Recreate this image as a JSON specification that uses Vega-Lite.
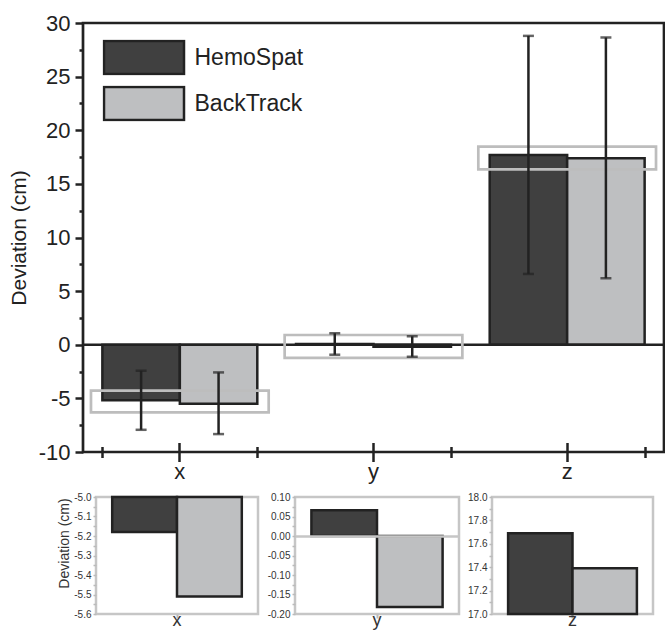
{
  "$schema": "https://vega.github.io/schema/vega-lite/v6.json",
  "padding": {"left": 6, "top": 10, "right": 0, "bottom": 0},
  "config": {
    "font": "Liberation Sans",
    "locale": {"number": {"decimal": ".", "thousands": ",", "grouping": [3], "currency": ["$", ""], "minus": "-"}},
    "axis": {"grid": false, "labelColor": "#222", "titleColor": "#222", "labelOverlap": false, "labelFlush": false}
  },
  "datasets": {
    "main": [
      {"cat": "x", "method": "HemoSpat", "value": -5.18, "lo": -7.93, "hi": -2.42},
      {"cat": "x", "method": "BackTrack", "value": -5.51, "lo": -8.33, "hi": -2.58},
      {"cat": "y", "method": "HemoSpat", "value": 0.066, "lo": -0.93, "hi": 1.07},
      {"cat": "y", "method": "BackTrack", "value": -0.182, "lo": -1.12, "hi": 0.79},
      {"cat": "z", "method": "HemoSpat", "value": 17.69, "lo": 6.6, "hi": 28.8},
      {"cat": "z", "method": "BackTrack", "value": 17.39, "lo": 6.2, "hi": 28.65}
    ],
    "hl": [
      {"cat": "x", "top": -4.28, "bottom": -6.31},
      {"cat": "y", "top": 0.91, "bottom": -1.23},
      {"cat": "z", "top": 18.47, "bottom": 16.35}
    ]
  },
  "resolve": {"scale": {"x": "independent", "y": "independent", "color": "independent", "xOffset": "independent"}, "legend": {"color": "independent"}},
  "columns": 1,
  "spacing": 6,
  "concat": [
    {
      "width": 581,
      "height": 429,
      "view": {"stroke": "#222", "strokeWidth": 2.7},
      "resolve": {"axis": {"x": "independent", "y": "independent"}},
      "layer": [
        {
          "data": {"name": "main"},
          "mark": {"type": "bar", "stroke": "#222", "strokeWidth": 2.5},
          "encoding": {
            "x": {"field": "cat", "type": "nominal", "scale": {"paddingInner": 0.2, "paddingOuter": 0.1},
              "axis": {"orient": "bottom", "offset": -9.5, "tickSize": 19, "tickWidth": 2.5, "tickColor": "#222", "domain": false, "labelFontSize": 22, "labelBaseline": "alphabetic", "labelPadding": 17, "labelAngle": 0, "title": null}},
            "xOffset": {"field": "method", "type": "nominal", "sort": ["HemoSpat", "BackTrack"], "scale": {"paddingInner": 0, "paddingOuter": 0}},
            "y": {"field": "value", "type": "quantitative", "scale": {"domain": [-10, 30], "nice": false, "zero": false},
              "axis": {"orient": "left", "values": [-10, -5, 0, 5, 10, 15, 20, 25, 30], "tickSize": 8, "tickWidth": 2.5, "tickColor": "#222", "domain": false, "labelFontSize": 22, "labelPadding": 5, "title": "Deviation (cm)", "titleFontSize": 21, "titleFontWeight": "normal", "titlePadding": 9}},
            "color": {"field": "method", "type": "nominal", "scale": {"domain": ["HemoSpat", "BackTrack"], "range": ["#404040", "#bebfc1"]},
              "legend": {"orient": "none", "legendX": 19.5, "legendY": 16.5, "title": null, "symbolType": "M-1,-0.4125H1V0.4125H-1Z", "symbolSize": 6400, "symbolStrokeWidth": 2.5, "symbolStrokeColor": "#222", "symbolOpacity": 1, "clipHeight": 36, "rowPadding": 10, "labelFontSize": 23, "labelOffset": 9, "labelColor": "#222", "padding": 0}}
          }
        },
        {
          "data": {"values": [{}]},
          "mark": {"type": "rule", "color": "#222", "strokeWidth": 2.7},
          "encoding": {"y": {"datum": 0, "axis": null}}
        },
        {
          "data": {"name": "hl"},
          "mark": {"type": "bar", "fill": "transparent", "stroke": "#bdbdbd", "strokeWidth": 2.7, "width": {"band": 1.147}},
          "encoding": {
            "x": {"field": "cat", "type": "nominal",
              "axis": {"orient": "bottom", "tickBand": "extent", "offset": -5.5, "tickSize": 11, "tickWidth": 2.5, "tickColor": "#222", "domain": false, "labels": false, "title": null}},
            "y": {"field": "top", "type": "quantitative",
              "axis": {"orient": "left", "values": [-7.5, -2.5, 2.5, 7.5, 12.5, 17.5, 22.5, 27.5], "tickSize": 4, "tickWidth": 2.5, "tickColor": "#222", "domain": false, "labels": false, "title": null}},
            "y2": {"field": "bottom"}
          }
        },
        {
          "data": {"name": "main"},
          "mark": {"type": "rule", "color": "#222", "strokeWidth": 2.5},
          "encoding": {
            "x": {"field": "cat", "type": "nominal", "axis": null},
            "xOffset": {"field": "method", "type": "nominal", "sort": ["HemoSpat", "BackTrack"]},
            "y": {"field": "lo", "type": "quantitative", "axis": null},
            "y2": {"field": "hi"}
          }
        },
        {
          "data": {"name": "main"},
          "mark": {"type": "tick", "color": "#222", "size": 11, "thickness": 2.5},
          "encoding": {
            "x": {"field": "cat", "type": "nominal", "axis": null},
            "xOffset": {"field": "method", "type": "nominal", "sort": ["HemoSpat", "BackTrack"]},
            "y": {"field": "lo", "type": "quantitative", "axis": null}
          }
        },
        {
          "data": {"name": "main"},
          "mark": {"type": "tick", "color": "#222", "size": 11, "thickness": 2.5},
          "encoding": {
            "x": {"field": "cat", "type": "nominal", "axis": null},
            "xOffset": {"field": "method", "type": "nominal", "sort": ["HemoSpat", "BackTrack"]},
            "y": {"field": "hi", "type": "quantitative", "axis": null}
          }
        }
      ]
    },
    {
      "spacing": 0,
      "bounds": "flush",
      "resolve": {"scale": {"x": "independent", "y": "independent", "color": "independent", "xOffset": "independent"}, "legend": {"color": "independent"}},
      "hconcat": [
        {
          "width": 13, "height": 117,
          "view": {"stroke": null},
          "data": {"values": []},
          "mark": "point"
        },
        {
          "width": 162, "height": 117,
          "view": {"stroke": "#c6c6c6", "strokeWidth": 2.5},
          "data": {"name": "main"},
          "transform": [{"filter": "datum.cat == 'x'"}],
          "mark": {"type": "bar", "stroke": "#222", "strokeWidth": 2.5},
          "encoding": {
            "x": {"field": "cat", "type": "nominal", "scale": {"paddingInner": 0.2, "paddingOuter": 0.1},
              "axis": {"orient": "bottom", "domain": false, "tickSize": 4, "tickWidth": 2, "tickColor": "#bbb", "labelFontSize": 18, "labelBaseline": "alphabetic", "labelPadding": 7, "labelColor": "#333", "labelAngle": 0, "title": null}},
            "xOffset": {"field": "method", "type": "nominal", "sort": ["HemoSpat", "BackTrack"], "scale": {"paddingInner": 0, "paddingOuter": 0}},
            "y": {"field": "value", "type": "quantitative", "scale": {"domain": [-5.6, -5.0], "nice": false, "zero": false},
              "axis": {"orient": "left", "values": [-5.6, -5.55, -5.5, -5.45, -5.4, -5.35, -5.3, -5.25, -5.2, -5.15, -5.1, -5.05, -5.0], "labelExpr": "round(datum.value*20) % 2 == 0 ? format(datum.value, '.1f') : ''", "domain": false, "tickSize": 3, "tickWidth": 1.5, "tickColor": "#bbb", "labelFontSize": 10, "labelPadding": 2, "labelColor": "#333", "title": "Deviation (cm)", "titleFontSize": 14, "titleFontWeight": "normal", "titleColor": "#333", "titlePadding": 2, "titleY": 46}},
            "y2": {"datum": -5.0},
            "color": {"field": "method", "type": "nominal", "scale": {"domain": ["HemoSpat", "BackTrack"], "range": ["#404040", "#bebfc1"]}, "legend": null}
          }
        },
        {
          "width": 37, "height": 117,
          "view": {"stroke": null},
          "data": {"values": []},
          "mark": "point"
        },
        {
          "width": 164, "height": 117,
          "view": {"stroke": "#c6c6c6", "strokeWidth": 2.5},
          "data": {"name": "main"},
          "transform": [{"filter": "datum.cat == 'y'"}],
          "mark": {"type": "bar", "stroke": "#222", "strokeWidth": 2.5},
          "encoding": {
            "x": {"field": "cat", "type": "nominal", "scale": {"paddingInner": 0.2, "paddingOuter": 0.1},
              "axis": {"orient": "bottom", "domain": false, "tickSize": 4, "tickWidth": 2, "tickColor": "#bbb", "labelFontSize": 18, "labelBaseline": "alphabetic", "labelPadding": 7, "labelColor": "#333", "labelAngle": 0, "title": null}},
            "xOffset": {"field": "method", "type": "nominal", "sort": ["HemoSpat", "BackTrack"], "scale": {"paddingInner": 0, "paddingOuter": 0}},
            "y": {"field": "value", "type": "quantitative", "scale": {"domain": [-0.2, 0.1], "nice": false, "zero": false},
              "axis": {"orient": "left", "zindex": 1, "values": [-0.2, -0.175, -0.15, -0.125, -0.1, -0.075, -0.05, -0.025, 0, 0.025, 0.05, 0.075, 0.1], "labelExpr": "round(datum.value*40) % 2 == 0 ? format(datum.value, '.2f') : ''", "domain": false, "tickSize": 3, "tickWidth": 1.5, "tickColor": "#bbb", "labelFontSize": 10, "labelPadding": 2, "labelColor": "#333", "title": null,
                "grid": true, "gridWidth": 2.5, "gridColor": "#c6c6c6", "gridOpacity": {"condition": {"test": "datum.value == 0", "value": 1}, "value": 0}}},
            "color": {"field": "method", "type": "nominal", "scale": {"domain": ["HemoSpat", "BackTrack"], "range": ["#404040", "#bebfc1"]}, "legend": null}
          }
        },
        {
          "width": 33, "height": 117,
          "view": {"stroke": null},
          "data": {"values": []},
          "mark": "point"
        },
        {
          "width": 161, "height": 117,
          "view": {"stroke": "#c6c6c6", "strokeWidth": 2.5},
          "data": {"name": "main"},
          "transform": [{"filter": "datum.cat == 'z'"}],
          "mark": {"type": "bar", "stroke": "#222", "strokeWidth": 2.5},
          "encoding": {
            "x": {"field": "cat", "type": "nominal", "scale": {"paddingInner": 0.2, "paddingOuter": 0.1},
              "axis": {"orient": "bottom", "domain": false, "tickSize": 4, "tickWidth": 2, "tickColor": "#bbb", "labelFontSize": 18, "labelBaseline": "alphabetic", "labelPadding": 7, "labelColor": "#333", "labelAngle": 0, "title": null}},
            "xOffset": {"field": "method", "type": "nominal", "sort": ["HemoSpat", "BackTrack"], "scale": {"paddingInner": 0, "paddingOuter": 0}},
            "y": {"field": "value", "type": "quantitative", "scale": {"domain": [17.0, 18.0], "nice": false, "zero": false},
              "axis": {"orient": "left", "values": [17.0, 17.1, 17.2, 17.3, 17.4, 17.5, 17.6, 17.7, 17.8, 17.9, 18.0], "labelExpr": "round(datum.value*10) % 2 == 0 ? format(datum.value, '.1f') : ''", "domain": false, "tickSize": 3, "tickWidth": 1.5, "tickColor": "#bbb", "labelFontSize": 10, "labelPadding": 2, "labelColor": "#333", "title": null}},
            "y2": {"datum": 17.0},
            "color": {"field": "method", "type": "nominal", "scale": {"domain": ["HemoSpat", "BackTrack"], "range": ["#404040", "#bebfc1"]}, "legend": null}
          }
        }
      ]
    }
  ]
}
